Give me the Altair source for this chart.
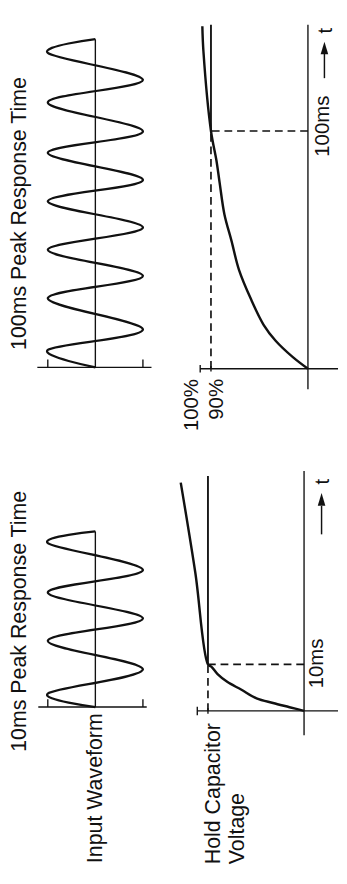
import altair as alt
import pandas as pd

FONT = "Liberation Sans"
INK = "#111111"

# ---------------- data ----------------
# Input waveform keyframes (start, successive peaks, end): time in ms, level in peak units
wave100_t = [0, 7.3, 15.9, 29.0, 38.4, 49.4, 58.8, 69.8, 78.8, 90.2, 99.2, 111.4, 120.8, 132.2, 138.0]
wave100_v = [0, 1, -1, 1, -1, 1, -1, 1, -1, 1, -1, 1, -1, 1, 0]
wave10_t = [0, 2.9, 8.1, 14.2, 19.0, 24.6, 29.4, 35.2, 37.7]
wave10_v = [0, 1, -1, 1, -1, 1, -1, 1, 0]

# Hold capacitor voltage (% of peak) against time (ms)
cap100_t = [0, 4.9, 11.8, 18.4, 29.4, 41.6, 53.9, 64.9, 78.4, 87.8, 100, 133.5, 144]
cap100_v = [0, 14, 30, 41, 53, 64, 71, 77.5, 82, 85, 90, 97, 98]
cap10_t = [0, 0.8, 1.7, 2.7, 4.6, 6.25, 7.9, 9.4, 10, 29.6, 49]
cap10_v = [0, 13.6, 29, 44.5, 59, 72, 81, 86.4, 90, 101.8, 115.5]

response_ms = [100, 10]          # peak response times shown
full_pct, settle_pct = 100, 90   # capacitor levels marked
wave_peaks = [1, -1]             # input waveform amplitude ticks

# ---------------- layout (pixels, not data) ----------------
COL1_W, COL2_W = 162, 177
WAVE_ZERO_X, WAVE_PPU = 89, 49
ROW = {
    100: dict(h=432, wave_t0=353, cap_t0=354.5, ppm=2.45, cap_v0=146, ppp=1.11),
    10: dict(h=436, wave_t0=271, cap_t0=275, ppm=4.8, cap_v0=142, ppp=1.10),
}


def dom(zero_px, span_px, per):
    return [-(span_px - zero_px) / per, zero_px / per]


def xy(xs, ys):
    return dict(x=alt.X("a:Q", scale=xs, axis=None), y=alt.Y("t:Q", scale=ys, axis=None))


def rules(rows, xs, ys, width, dash=None):
    df = pd.DataFrame(rows, columns=["a", "a2", "t", "t2"])
    kw = dict(color=INK, strokeWidth=width)
    if dash:
        kw["strokeDash"] = dash
    return alt.Chart(df).mark_rule(**kw).encode(
        x2="a2:Q", y2="t2:Q", **xy(xs, ys))


def texts(rows, xs, ys, size, align):
    df = pd.DataFrame(rows, columns=["a", "t", "s"])
    return alt.Chart(df).mark_text(
        angle=270, align=align, baseline="middle", font=FONT,
        fontSize=size, color=INK).encode(text="s:N", **xy(xs, ys))


def wave_panel(ms, t_list, v_list, title, title_t, axis_ext, extra=None):
    r = ROW[ms]
    xs = alt.Scale(domain=dom(WAVE_ZERO_X, COL1_W, WAVE_PPU), reverse=True, nice=False, zero=False)
    ys = alt.Scale(domain=dom(r["wave_t0"], r["h"], r["ppm"]), nice=False, zero=False)
    df = pd.DataFrame({"a": v_list, "t": t_list, "i": list(range(len(t_list)))})
    line = alt.Chart(df).mark_line(interpolate="cardinal", color=INK, strokeWidth=2.3).encode(
        order="i:Q", **xy(xs, ys))
    tick = 8 / r["ppm"]
    frame = rules(
        [[0, 0, 0, t_list[-1]], [axis_ext[0], axis_ext[1], 0, 0]]
        + [[p, p, 0, tick] for p in wave_peaks],
        xs, ys, 1.4)
    layers = [frame, line, texts([[1.61, title_t, title]], xs, ys, 22, "left")]
    if extra:
        layers.append(texts(extra, xs, ys, 22, "left"))
    return alt.layer(*layers).properties(width=COL1_W, height=r["h"])


def cap_panel(ms, t_list, v_list, axis_t, cap_h, top_t, ms_label, arrow, under_right=None, under_left=None):
    r = ROW[ms]
    xdom = dom(r["cap_v0"], COL2_W, r["ppp"])
    ydom = dom(r["cap_t0"], r["h"], r["ppm"])
    xs = alt.Scale(domain=xdom, reverse=True, nice=False, zero=False)
    ys = alt.Scale(domain=ydom, nice=False, zero=False)
    right_edge = xdom[0] + 0.01
    top_t = min(top_t, ydom[1] - 0.01)
    axis_top = min(axis_t[1], ydom[1] - 0.01)
    df = pd.DataFrame({"a": v_list, "t": t_list, "i": list(range(len(t_list)))})
    df = df[df["t"] <= ydom[1]]
    curve = alt.Chart(df).mark_line(interpolate="catmull-rom", color=INK, strokeWidth=2.5).encode(
        order="i:Q", **xy(xs, ys))
    frame = rules(
        [[full_pct, right_edge, 0, 0], [0, 0, axis_t[0], axis_top],
         [full_pct, full_pct, -cap_h, cap_h], [settle_pct, settle_pct, -cap_h * 0.7, cap_h * 0.7]],
        xs, ys, 1.4)
    hold = rules([[settle_pct, settle_pct, ms, top_t]], xs, ys, 1.9)
    dashed = rules([[settle_pct, settle_pct, 0, ms], [0, settle_pct, ms, ms]], xs, ys, 1.7, dash=[8, 5])
    ax, t0, t1, th, tt = arrow
    shaft = rules([[ax, ax, t0, t1]], xs, ys, 1.5)
    head = alt.Chart(pd.DataFrame({"a": [ax], "t": [th]})).mark_point(
        shape="M0,-1L0.6,1L-0.6,1Z", filled=True, size=170, color=INK, opacity=1).encode(**xy(xs, ys))
    layers = [frame, dashed, hold, curve, shaft, head,
              texts([[ms_label[0], ms_label[1], f"{ms}ms"], [ax - 1.5, tt, "t"]], xs, ys, 21, "center")]
    if under_right:
        layers.append(texts(under_right, xs, ys, 21, "right"))
    if under_left:
        layers.append(texts(under_left, xs, ys, 22, "left"))
    return alt.layer(*layers).properties(width=COL2_W, height=r["h"])


row100 = alt.hconcat(
    wave_panel(100, wave100_t, wave100_v, "100ms Peak Response Time", 7.3, (1.22, -1.18)),
    cap_panel(100, cap100_t, cap100_v, (-8.6, 150), 1.6, 150, (-14.4, 102),
              (-15.3, 122.2, 133.0, 134.9, 142.2),
              under_right=[[107.2, -4.3, f"{full_pct}%"], [83.8, -4.3, f"{settle_pct}%"]]),
    spacing=0,
)
row10 = alt.hconcat(
    wave_panel(10, wave10_t, wave10_v, "10ms Peak Response Time", -9.6, (1.2, -1.08),
               extra=[[0, -33.5, "Input Waveform"]]),
    cap_panel(10, cap10_t, cap10_v, (-5.2, 51.5), 0.9, 50.4, (-12.7, 10.2),
              (-16.4, 37.9, 44.0, 45.4, 49.2),
              under_left=[[85.5, -32.9, "Hold Capacitor"], [62.7, -32.9, "Voltage"]]),
    spacing=0,
)

chart = (
    alt.vconcat(row100, row10, spacing=0, padding=0, background="white")
    .configure_view(stroke=None)
)

chart.save("out.html", embed_options={"renderer": "svg", "actions": False})
